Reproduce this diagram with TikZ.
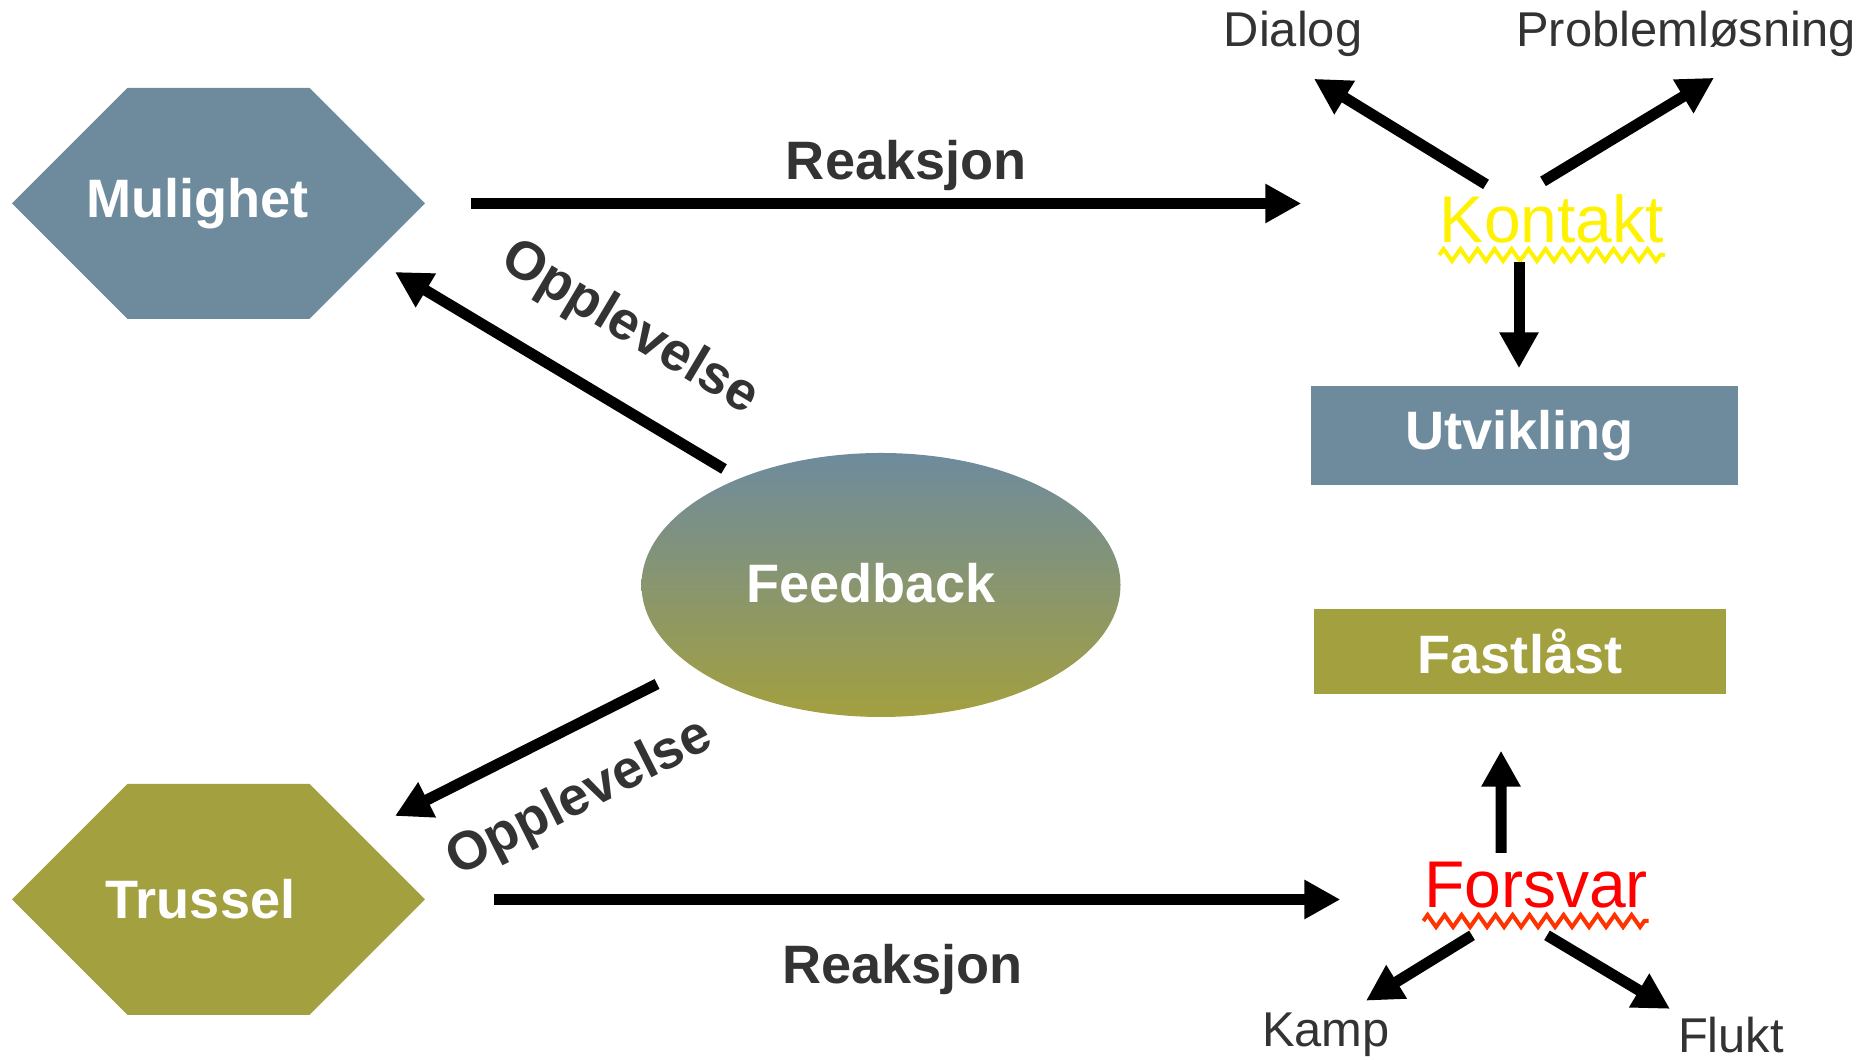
\documentclass[tikz,border=0pt]{standalone}
\usepackage{fontspec}
\setmainfont{Liberation Sans}
\usetikzlibrary{arrows.meta,shapes,positioning,decorations.pathmorphing}

\tikzset{
    hexa/.style={signal, signal to=east and west, signal pointer angle=90, fill=#1, minimum width=4.13cm, minimum height=2.31cm, inner sep=0pt},
    panel/.style={rectangle, fill=#1, inner sep=0pt},
    whitetxt/.style={text=white, font=\fontsize{15.4}{18}\selectfont\bfseries},
    edgetxt/.style={text=dark, font=\fontsize{15.4}{18}\selectfont\bfseries, inner sep=0pt},
    leaf/.style={text=dark, font=\fontsize{13.9}{16}\selectfont, inner sep=0pt, anchor=base},
    mood/.style={text=#1, font=\fontsize{18.8}{22}\selectfont, inner sep=0pt, anchor=base},
    arr/.style={-{Triangle[width=0.37cm,length=0.36cm]}, line width=0.11cm},
    squiggle/.style={decorate, decoration={zigzag, segment length=0.17cm, amplitude=0.06cm}, line width=0.04cm}
}

\begin{document}
\begin{tikzpicture}
    \definecolor{c1}{RGB}{110,139,158}
    \definecolor{c2}{RGB}{163,160,63}
    \definecolor{c3}{RGB}{255,51,0}
    \definecolor{dark}{RGB}{51,51,51}

    \useasboundingbox (0,0) rectangle (18.76,10.6);

    \node[hexa=c1, label={[whitetxt,xshift=-0.21cm]center:Mulighet}] (mulighet) at (2.185,8.565) {};
    \node[hexa=c2, label={[whitetxt,xshift=-0.18cm]center:Trussel}] (trussel) at (2.185,1.605) {};
    \node[ellipse, top color=c1, bottom color=c2, minimum width=4.79cm, minimum height=2.64cm, inner sep=0pt,
        label={[whitetxt,xshift=-0.1cm,yshift=0.02cm]center:Feedback}] (feedback) at (8.81,4.75) {};
    \node[panel=c1, minimum width=4.27cm, minimum height=0.99cm, label={[whitetxt,xshift=-0.05cm]center:Utvikling}] (utvikling) at (15.245,6.245) {};
    \node[panel=c2, minimum width=4.12cm, minimum height=0.85cm, whitetxt] (fastlast) at (15.20,4.085) {Fastlåst};

    \node[mood=yellow] (kontakt) at (15.52,8.17) {Kontakt};
    \node[mood=red] (forsvar) at (15.36,1.52) {Forsvar};
    \node[leaf] (dialog) at (12.93,10.13) {Dialog};
    \node[leaf] (problemlosning) at (16.86,10.13) {Problemløsning};
    \node[leaf] (kamp) at (13.26,0.13) {Kamp};
    \node[leaf] (flukt) at (17.31,0.07) {Flukt};

    \draw[squiggle, yellow] ([yshift=-0.12cm]kontakt.base west) -- ([yshift=-0.12cm]kontakt.base east);
    \draw[squiggle, c3] ([yshift=-0.13cm]forsvar.base west) -- ([yshift=-0.13cm]forsvar.base east);

    \draw[arr, shorten <=0.45cm, shorten >=1.38cm] (mulighet.east) -- (mulighet.east -| kontakt.west)
        node[pos=0.474, above=0.07cm, edgetxt] {Reaksjon};
    \draw[arr, shorten <=0.68cm, shorten >=0.83cm] (trussel.east) -- (trussel.east -| forsvar.west)
        node[pos=0.478, below=0.39cm, edgetxt] {Reaksjon};

    \draw[arr] ([shift={(-1.57,1.16)}]feedback.center) -- ([shift={(1.765,-0.685)}]mulighet.center)
        node[pos=0.40, sloped, above=0.41cm, edgetxt] {Opplevelse};
    \draw[arr] ([shift={(-2.24,-0.99)}]feedback.center) -- ([shift={(1.765,0.835)}]trussel.center)
        node[pos=0.41, sloped, below=0.37cm, edgetxt] {Opplevelse};

    \draw[arr] ([shift={(-0.33,-0.18)}]kontakt.south) -- ([shift={(-0.055,0.17)}]utvikling.north);
    \draw[arr] ([shift={(-0.35,0.09)}]forsvar.north) -- ([shift={(-0.19,-0.56)}]fastlast.south);

    \draw[arr] ([shift={(-0.66,0.10)}]kontakt.north) -- ([shift={(0.21,-0.21)}]dialog.south);
    \draw[arr] ([shift={(-0.09,0.13)}]kontakt.north) -- ([shift={(0.28,-0.20)}]problemlosning.south);
    \draw[arr] ([shift={(-0.64,-0.26)}]forsvar.south) -- ([shift={(0.40,0.12)}]kamp.north);
    \draw[arr] ([shift={(0.11,-0.26)}]forsvar.south) -- ([shift={(-0.61,0.08)}]flukt.north);

\end{tikzpicture}
\end{document}
